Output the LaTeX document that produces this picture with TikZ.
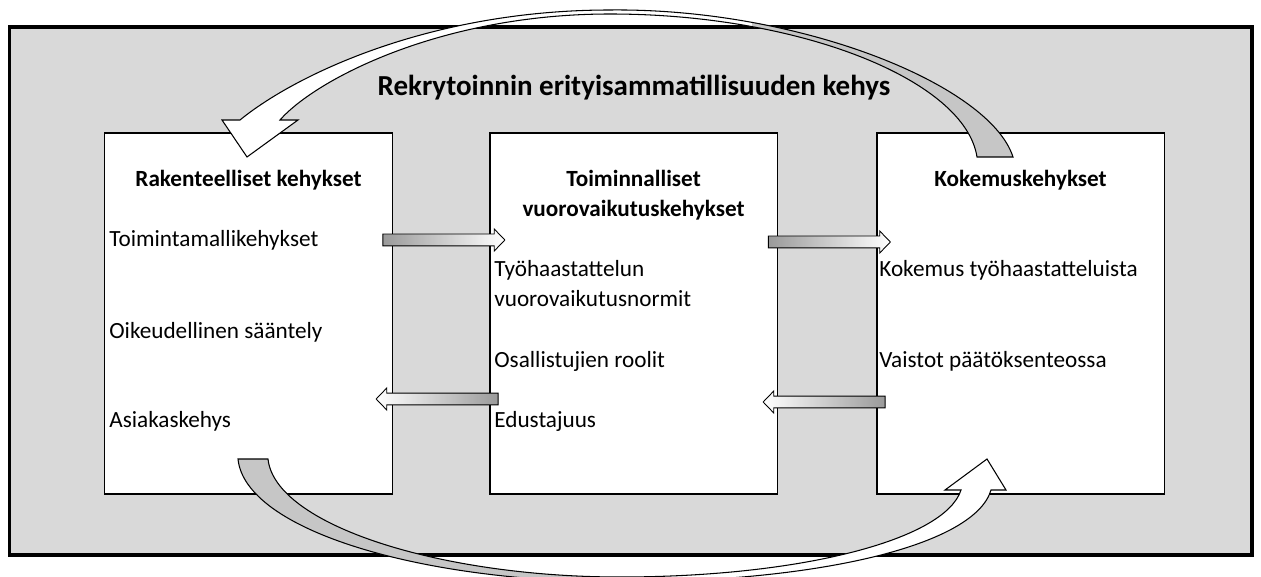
\documentclass[tikz,border=0pt]{standalone}
\usepackage{fontspec}
\setmainfont{Carlito}
\usetikzlibrary{shapes.arrows}
\definecolor{tausta}{HTML}{D9D9D9}
\definecolor{hanta}{HTML}{C6C6C6}
\definecolor{varjo}{HTML}{9A9A9A}
\tikzset{kehys/.style={draw,line width=1.1pt,fill=white,inner sep=0,
    minimum width=5.76cm,minimum height=7.22cm}}
\tikzset{teksti/.style={anchor=base west,inner sep=0,
    font=\fontsize{13.2}{15}\selectfont}}
\tikzset{otsikko/.style={anchor=base,inner sep=0,
    font=\bfseries\fontsize{13.2}{15}\selectfont}}
\tikzset{oikealle/.style={single arrow,draw,line width=0.5pt,
    inner xsep=0,inner ysep=0.11cm,minimum width=0,
    minimum height=2.44cm,
    single arrow head extend=0.1cm,single arrow tip angle=92,
    left color=varjo,right color=white}}
\tikzset{vasemmalle/.style={oikealle,shape border rotate=180,
    left color=white,right color=varjo}}

\begin{document}
\begin{tikzpicture}[x=0.02cm,y=-0.02cm]
  \useasboundingbox (0,0) rectangle (1261,577);
  % kehys
  \draw[line width=1.8pt,fill=tausta] (9.5,27) rectangle (1252,555);
  \node[anchor=base,inner sep=0,font=\bfseries\fontsize{16.5}{20}\selectfont]
    (otsikko) at (634,96) {Rekrytoinnin erityisammatillisuuden kehys};
  % laatikot
  \node[kehys] (rakenne) at (248.5,313.5) {};
  \node[kehys] (toiminta) at (633.5,313.5) {};
  \node[kehys] (kokemus) at (1020.5,313.5) {};
  % laatikko 1
  \node[otsikko] (r0) at (248.5,187) {Rakenteelliset kehykset};
  \node[teksti] (r1) at (109,247) {Toimintamallikehykset};
  \node[teksti] (r2) at (109,339) {Oikeudellinen sääntely};
  \node[teksti] (r3) at (109,427) {Asiakaskehys};
  % laatikko 2
  \node[otsikko] (t0) at (633.5,187) {Toiminnalliset};
  \node[otsikko] (t00) at (633.5,217) {vuorovaikutuskehykset};
  \node[teksti] (t1) at (494,277) {Työhaastattelun};
  \node[teksti] (t2) at (494,307) {vuorovaikutusnormit};
  \node[teksti] (t3) at (494,368) {Osallistujien roolit};
  \node[teksti] (t4) at (494,427) {Edustajuus};
  % laatikko 3
  \node[otsikko] (k0) at (1020.5,187) {Kokemuskehykset};
  \node[teksti] (k1) at (879,277) {Kokemus työhaastatteluista};
  \node[teksti] (k2) at (879,368) {Vaistot päätöksenteossa};
  % pienet nuolet
  \node[oikealle] (n1) at (441,240) {};
  \node[vasemmalle] (n2) at (440,399) {};
  \node[oikealle] (n3) at (826.5,242) {};
  \node[vasemmalle] (n4) at (827,402) {};
  % iso nuoli ylhaalla
  \path[save path=\ylakaari] (977,157) -- (1013,157)
    .. controls (990,85) and (800,8) .. (610,10)
    .. controls (430,10) and (295,75) .. (240,120)
    -- (222,120) -- (247,157) -- (298,120) -- (280,120)
    .. controls (315,80) and (440,14) .. (610,14)
    .. controls (800,14) and (965,80) .. (977,157) -- cycle;
  \path[use path=\ylakaari,fill=white];
  \begin{scope}
    \clip (752,0) rectangle (1100,200);
    \path[use path=\ylakaari,fill=hanta];
  \end{scope}
  \path[use path=\ylakaari,draw,line width=0.6pt];
  % iso nuoli alhaalla
  \path[save path=\alakaari] (238,459)
    .. controls (245,530) and (420,582) .. (620,582)
    .. controls (820,582) and (975,545) .. (991,490)
    -- (1006,490) -- (987,459) -- (945,490) -- (961,490)
    .. controls (945,540) and (800,577) .. (620,577)
    .. controls (440,577) and (275,525) .. (268,459) -- cycle;
  \path[use path=\alakaari,fill=white];
  \begin{scope}
    \clip (0,440) rectangle (600,600);
    \path[use path=\alakaari,fill=hanta];
  \end{scope}
  \path[use path=\alakaari,draw,line width=0.6pt];
\end{tikzpicture}
\end{document}
